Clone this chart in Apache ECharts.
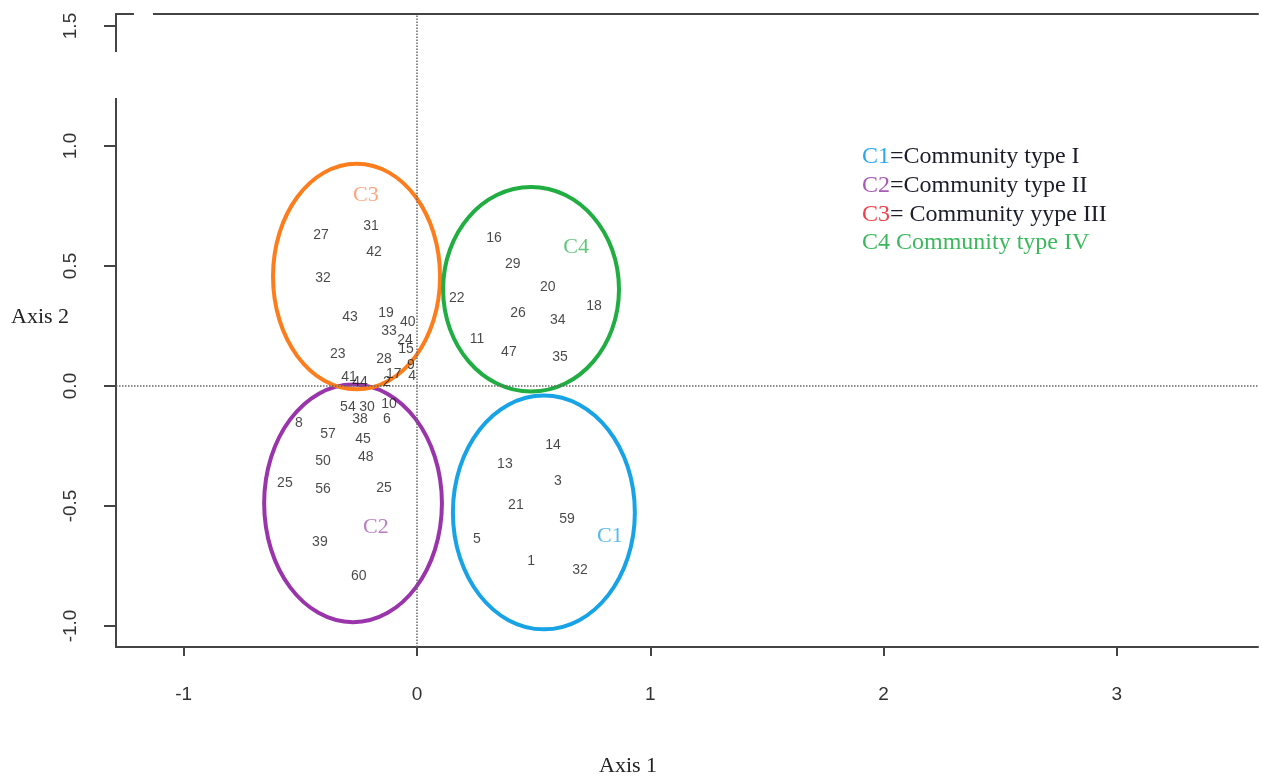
<!DOCTYPE html>
<html>
<head>
<meta charset="utf-8">
<script src="https://cdn.jsdelivr.net/npm/echarts@6/dist/echarts.min.js"></script>
<style>
html, body { margin: 0; padding: 0; background: #fff; }
#chart { width: 1262px; height: 779px; }
</style>
</head>
<body>
<div id="chart"></div>
<script>
// plot labels: [axis1, axis2, label]
var siteC3 = [
  [-0.411, 0.630, '27'], [-0.197, 0.668, '31'], [-0.184, 0.559, '42'], [-0.403, 0.450, '32'],
  [-0.287, 0.286, '43'], [-0.133, 0.303, '19'], [-0.039, 0.265, '40'], [-0.120, 0.227, '33'],
  [-0.339, 0.134, '23'], [-0.141, 0.113, '28'], [-0.051, 0.189, '24'], [-0.047, 0.155, '15'],
  [-0.026, 0.088, '9'], [-0.099, 0.050, '17'], [-0.021, 0.042, '4'], [-0.291, 0.038, '41'],
  [-0.244, 0.017, '44'], [-0.129, 0.017, '2']
];
var siteC2 = [
  [-0.296, -0.088, '54'], [-0.214, -0.088, '30'], [-0.244, -0.139, '38'], [-0.120, -0.076, '10'],
  [-0.129, -0.139, '6'], [-0.506, -0.155, '8'], [-0.381, -0.202, '57'], [-0.231, -0.223, '45'],
  [-0.219, -0.298, '48'], [-0.403, -0.315, '50'], [-0.566, -0.403, '25'], [-0.403, -0.429, '56'],
  [-0.141, -0.424, '25'], [-0.416, -0.651, '39'], [-0.249, -0.794, '60']
];
var siteC4 = [
  [0.330, 0.618, '16'], [0.411, 0.508, '29'], [0.561, 0.412, '20'], [0.171, 0.366, '22'],
  [0.759, 0.332, '18'], [0.433, 0.303, '26'], [0.604, 0.273, '34'], [0.257, 0.197, '11'],
  [0.394, 0.139, '47'], [0.613, 0.122, '35']
];
var siteC1 = [
  [0.583, -0.248, '14'], [0.377, -0.324, '13'], [0.604, -0.395, '3'], [0.424, -0.496, '21'],
  [0.643, -0.555, '59'], [0.257, -0.639, '5'], [0.489, -0.731, '1'], [0.699, -0.769, '32']
];

// ellipses: [centre x, centre y, radius x, radius y]
var ellipses = [
  [0.544, -0.527, 0.390, 0.487],
  [-0.274, -0.489, 0.381, 0.495],
  [-0.259, 0.456, 0.358, 0.470],
  [0.489, 0.403, 0.377, 0.426]
];
var groupNames = ['C1', 'C2', 'C3', 'C4'];
var groupLabelPos = [[0.827, -0.627], [-0.176, -0.588], [-0.219, 0.793], [0.682, 0.577]];
var groupColors = ['#17a3e6', '#9a34ab', '#fd7d1c', '#20ad41'];
var groupTextColors = ['#2aa8ea', '#a85bb6', '#ff8e5c', '#3cb85c'];

var xTicks = [-1, 0, 1, 2, 3];
var yTicks = [-1.0, -0.5, 0.0, 0.5, 1.0, 1.5];

var chart = echarts.init(document.getElementById('chart'));

var labelSeries = function (data) {
  return {
    type: 'scatter',
    data: data,
    symbolSize: 1,
    itemStyle: { color: 'rgba(0,0,0,0)' },
    silent: true,
    z: 5,
    label: {
      show: true,
      position: 'inside',
      formatter: function (p) { return p.value[2]; },
      fontFamily: 'Liberation Sans',
      fontSize: 14,
      color: '#1a1a1a'
    }
  };
};

var serif = 'Liberation Serif';
var legendLine = function (top, head, headColor, rest) {
  return {
    type: 'text', top: top,
    style: {
      text: '{a|' + head + '}{b|' + rest + '}',
      rich: {
        a: { fontFamily: serif, fontSize: 24, fill: headColor },
        b: { fontFamily: serif, fontSize: 24, fill: '#1c1c2a' }
      }
    }
  };
};

chart.setOption({
  animation: false,
  grid: { left: 116, right: 4, top: 14, bottom: 132, outerBoundsMode: 'none' },
  xAxis: [
    {
      type: 'value',
      min: -1.29,
      max: 3.605,
      position: 'bottom',
      splitLine: { show: false },
      axisLine: { show: true, onZero: false, lineStyle: { color: '#444', width: 2 } },
      axisTick: { show: true, customValues: xTicks, length: 9, lineStyle: { color: '#444', width: 2 } },
      axisLabel: {
        customValues: xTicks,
        margin: 38,
        fontFamily: 'Liberation Sans',
        fontSize: 19,
        color: '#333'
      }
    },
    {
      type: 'value',
      min: -1.29,
      max: 3.605,
      position: 'top',
      splitLine: { show: false },
      axisLine: { show: true, onZero: false, lineStyle: { color: '#444', width: 2 } },
      axisTick: { show: false },
      axisLabel: { show: false }
    }
  ],
  yAxis: {
    type: 'value',
    min: -1.0875,
    max: 1.55,
    splitLine: { show: false },
    axisLine: { show: true, onZero: false, lineStyle: { color: '#444', width: 2 } },
    axisTick: { show: true, customValues: yTicks, length: 12, lineStyle: { color: '#444', width: 2 } },
    axisLabel: {
      customValues: yTicks,
      rotate: 90,
      margin: 36,
      fontFamily: 'Liberation Sans',
      fontSize: 19,
      color: '#333',
      formatter: function (v) { return v.toFixed(1); }
    }
  },
  graphic: [
    // breaks in the frame, as in the source figure
    { type: 'rect', left: 110, top: 52, z: 100, shape: { width: 10, height: 46 }, style: { fill: '#fff' } },
    { type: 'rect', left: 134, top: 10, z: 100, shape: { width: 19, height: 8 }, style: { fill: '#fff' } },
    {
      type: 'text', left: 599, top: 755,
      style: { text: 'Axis 1', fontFamily: serif, fontSize: 22, fill: '#222' }
    },
    {
      type: 'text', left: 11, top: 306,
      style: { text: 'Axis 2', fontFamily: serif, fontSize: 22, fill: '#222' }
    },
    {
      type: 'group', left: 862, top: 145,
      children: [
        legendLine(0, 'C1', '#2aa8ea', '=Community type I'),
        legendLine(29, 'C2', '#a85bb6', '=Community type II'),
        legendLine(58, 'C3', '#f0404a', '= Community yype III'),
        {
          type: 'text', top: 86,
          style: { text: 'C4 Community type IV', fontFamily: serif, fontSize: 24, fill: '#3cb85c' }
        }
      ]
    }
  ],
  series: [
    {
      type: 'custom',
      data: ellipses,
      silent: true,
      z: 3,
      renderItem: function (params, api) {
        var c = api.coord([api.value(0), api.value(1)]);
        var s = api.size([api.value(2), api.value(3)]);
        return {
          type: 'ellipse',
          shape: { cx: c[0], cy: c[1], rx: s[0], ry: s[1] },
          style: { fill: 'none', stroke: groupColors[params.dataIndex], lineWidth: 4 }
        };
      }
    },
    {
      type: 'scatter',
      data: groupLabelPos.map(function (p, i) {
        return { value: [p[0], p[1], groupNames[i]], label: { color: groupTextColors[i] } };
      }),
      symbolSize: 1,
      itemStyle: { color: 'rgba(0,0,0,0)' },
      silent: true,
      z: 6,
      label: {
        show: true,
        position: 'inside',
        formatter: function (p) { return p.value[2]; },
        fontFamily: serif,
        fontSize: 22
      }
    },
    Object.assign(labelSeries(siteC3), {
      markLine: {
        silent: true,
        symbol: ['none', 'none'],
        label: { show: false },
        lineStyle: { type: 'dotted', color: '#666', width: 1.5 },
        data: [{ xAxis: 0 }, { yAxis: 0 }]
      }
    }),
    labelSeries(siteC2),
    labelSeries(siteC4),
    labelSeries(siteC1)
  ]
});
</script>
</body>
</html>
